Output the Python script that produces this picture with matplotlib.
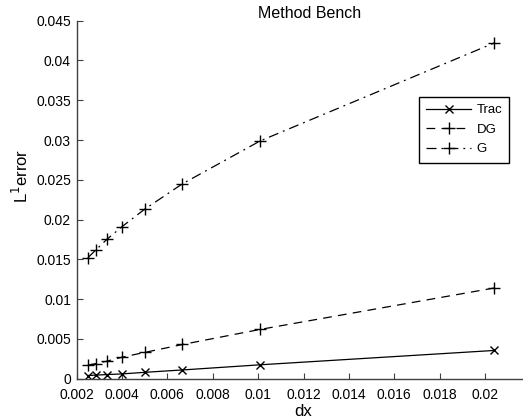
import matplotlib
matplotlib.use("Agg")
import matplotlib.pyplot as plt

plt.rcParams['font.family'] = ['Liberation Sans', 'DejaVu Sans']

dx = [0.0025, 0.002857, 0.003333, 0.004, 0.005, 0.006667, 0.0101, 0.0204]
trac = [0.00040, 0.00045, 0.00052, 0.00060, 0.00080, 0.00110, 0.00175, 0.00355]
dg = [0.0017, 0.0019, 0.0022, 0.0027, 0.0033, 0.0043, 0.0062, 0.0114]
g = [0.0152, 0.0162, 0.0175, 0.0191, 0.0213, 0.0245, 0.0299, 0.0422]
xticks = [0.002, 0.004, 0.006, 0.008, 0.01, 0.012, 0.014, 0.016, 0.018, 0.02]
xticklabels = ['0.002', '0.004', '0.006', '0.008', '0.01', '0.012', '0.014', '0.016', '0.018', '0.02']
yticks = [0, 0.005, 0.01, 0.015, 0.02, 0.025, 0.03, 0.035, 0.04, 0.045]
yticklabels = ['0', '0.005', '0.01', '0.015', '0.02', '0.025', '0.03', '0.035', '0.04', '0.045']

W, H = 523, 419
fig = plt.figure(figsize=(W / 100, H / 100), dpi=100)
ax = fig.add_axes([76.5 / W, (H - 378.7) / H, 454 / W, 358 / H])

lw = 0.9
ax.plot(dx, trac, color='black', lw=lw, ls='-', marker='x', ms=6, mew=1.0, label='Trac')
ax.plot(dx, dg, color='black', lw=lw, ls=(0, (7, 5)), marker='+', ms=9, mew=1.0, label='DG')
ax.plot(dx, g, color='black', lw=lw, ls=(0, (8, 4, 1.5, 4)), marker='+', ms=9, mew=1.0, label='G')

ax.set_xlim(0.002, 0.022)
ax.set_ylim(0, 0.045)
ax.set_xticks(xticks)
ax.set_xticklabels(xticklabels)
ax.set_yticks(yticks)
ax.set_yticklabels(yticklabels)
ax.tick_params(direction='in', length=4, width=0.8, color='#404040', labelsize=10, labelcolor='black')
ax.tick_params(axis='x', pad=7)
ax.tick_params(axis='y', pad=4)

for s in ['top', 'right']:
    ax.spines[s].set_visible(False)
for s in ['left', 'bottom']:
    ax.spines[s].set_color('#404040')
    ax.spines[s].set_linewidth(1.0)

ax.set_title('Method Bench', fontsize=11.5, pad=-4, x=0.513)
ax.set_xlabel('dx', fontsize=12, labelpad=1)
ax.set_ylabel(r'L$^1$error', fontsize=12)
ax.yaxis.set_label_coords((31 - 76.5) / 454, (378.7 - 176) / 358)

leg = ax.legend(loc='upper left', bbox_to_anchor=(419 / W, 1 - 97 / H), bbox_transform=fig.transFigure,
                fancybox=False, edgecolor='black', framealpha=1, fontsize=9.5,
                handlelength=3.4, handletextpad=0.4, borderpad=0.55, labelspacing=0.55,
                borderaxespad=0)
leg.get_frame().set_linewidth(1.0)

fig.savefig('out.png', dpi=100)
